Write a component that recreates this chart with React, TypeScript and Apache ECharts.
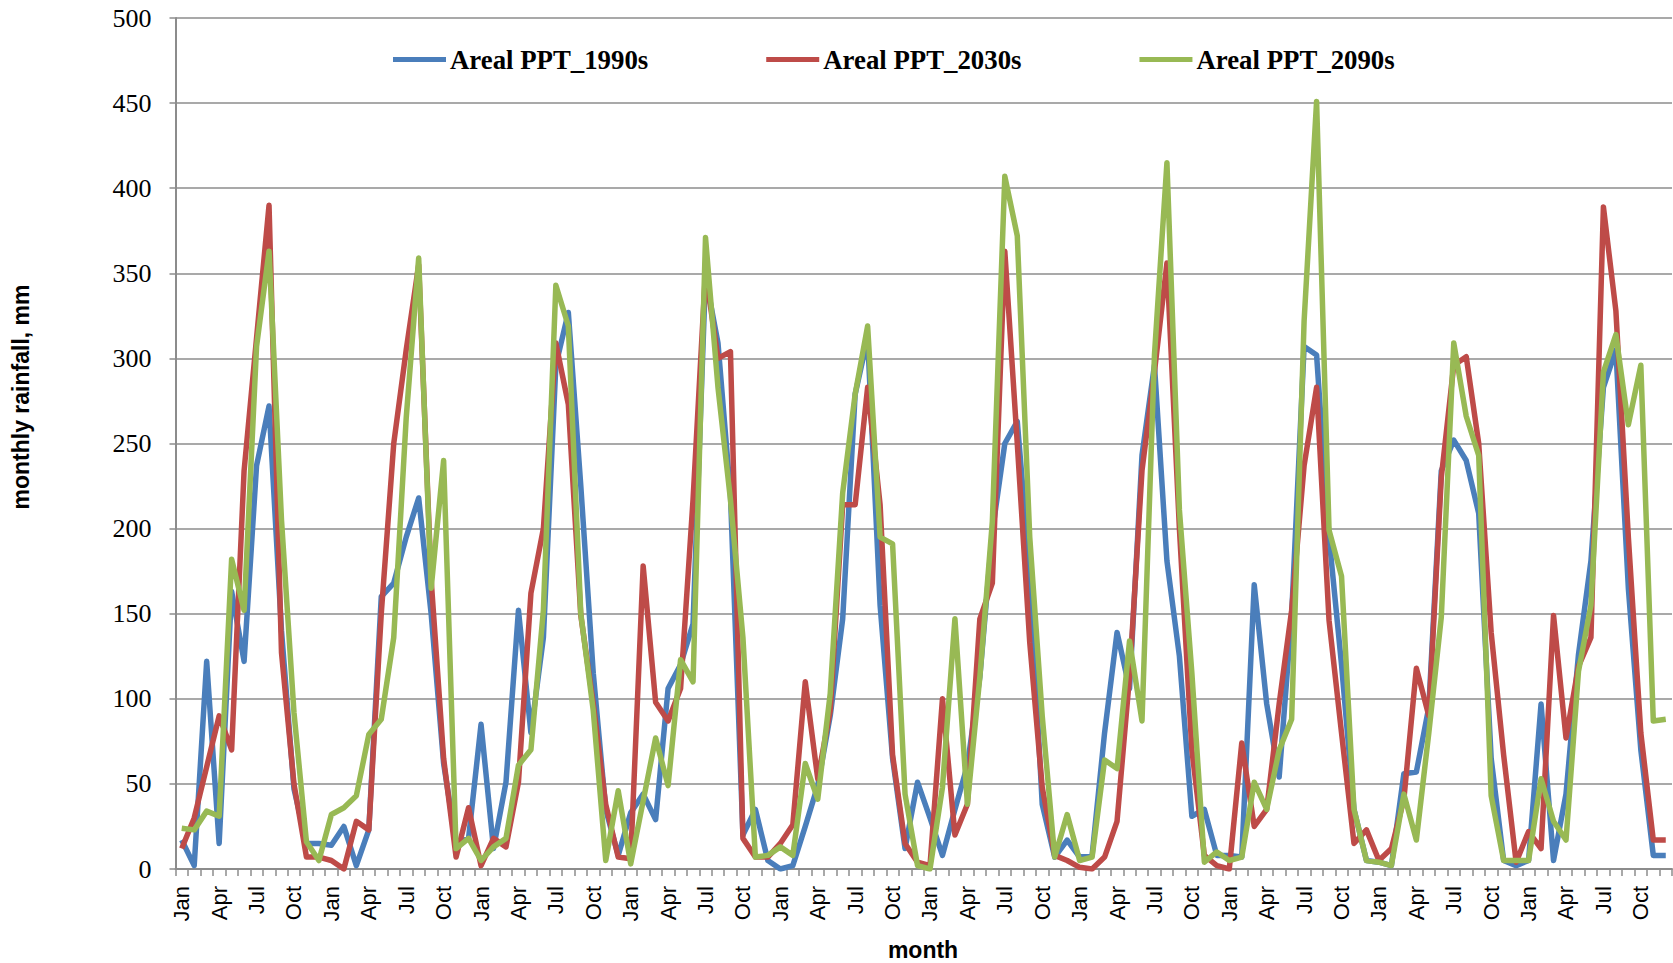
import React, { useEffect, useRef } from "react";
import * as echarts from "echarts";

const monthNames = ["Jan", "Feb", "Mar", "Apr", "May", "Jun", "Jul", "Aug", "Sep", "Oct", "Nov", "Dec"];
const yearsCount = 10;
const categories: string[] = [];
for (let y = 0; y < yearsCount; y++) for (const m of monthNames) categories.push(m);

const yTicks = { min: 0, max: 500, interval: 50 };

const ppt1990s = [
  17, 2, 122, 15, 163, 122, 237, 272, 140, 47, 15, 15,
  14, 25, 2, 23, 160, 168, 195, 218, 150, 62, 15, 18,
  85, 12, 51, 152, 80, 136, 296, 327, 225, 115, 35, 8,
  33, 44, 29, 106, 120, 144, 348, 309, 220, 20, 35, 5,
  0, 2, 25, 49, 90, 147, 279, 312, 155, 65, 12, 51,
  30, 8, 35, 61, 113, 198, 250, 263, 175, 38, 7, 17,
  7, 8, 80, 139, 106, 243, 296, 181, 125, 31, 35, 8,
  8, 7, 167, 97, 54, 149, 307, 302, 195, 120, 35, 5,
  4, 2, 56, 57, 95, 234, 252, 240, 209, 65, 5, 2,
  5, 97, 5, 44, 126, 181, 283, 305, 165, 70, 8, 8,
];

const ppt2030s = [
  12, 30, 60, 90, 70, 234, 312, 390, 127, 50, 7, 7,
  5, 0, 28, 23, 150, 250, 305, 355, 170, 65, 7, 36,
  2, 18, 13, 51, 162, 200, 309, 273, 149, 97, 38, 7,
  6, 178, 98, 87, 106, 217, 351, 300, 304, 18, 7, 7,
  15, 26, 110, 53, 93, 214, 214, 283, 214, 67, 15, 4,
  2, 100, 20, 38, 147, 168, 363, 250, 133, 48, 8, 5,
  1, 0, 7, 28, 113, 234, 292, 356, 200, 70, 8, 2,
  0, 74, 25, 35, 97, 152, 237, 283, 146, 80, 15, 23,
  5, 12, 41, 118, 90, 230, 296, 301, 250, 139, 67, 4,
  22, 12, 149, 77, 119, 136, 389, 328, 195, 80, 17, 17,
];

const ppt2090s = [
  24, 23, 34, 31, 182, 152, 307, 363, 205, 92, 16, 5,
  32, 36, 43, 79, 88, 136, 265, 359, 165, 240, 12, 18,
  5, 13, 18, 61, 70, 152, 343, 319, 150, 93, 5, 46,
  3, 40, 77, 49, 123, 110, 371, 283, 217, 136, 7, 8,
  13, 8, 62, 41, 103, 221, 279, 319, 195, 191, 44, 2,
  0, 48, 147, 38, 113, 204, 407, 372, 195, 90, 7, 32,
  5, 7, 64, 59, 134, 87, 302, 415, 211, 115, 4, 10,
  5, 7, 51, 35, 70, 88, 322, 451, 199, 172, 35, 5,
  4, 2, 44, 17, 80, 148, 309, 266, 243, 43, 5, 5,
  5, 53, 28, 17, 116, 155, 292, 314, 261, 296, 87, 88,
];

const seriesNames = ["Areal PPT_1990s", "Areal PPT_2030s", "Areal PPT_2090s"];
const seriesColors = ["#4A7EBB", "#BE4B48", "#98B954"];
const seriesData = [ppt1990s, ppt2030s, ppt2090s];

export default function App() {
  const ref = useRef<HTMLDivElement>(null);
  useEffect(() => {
    if (!ref.current) return;
    const chart = echarts.init(ref.current, undefined, { renderer: "svg" });
    const gray = "#8C8C8C";
    chart.setOption({
      animation: false,
      backgroundColor: "#ffffff",
      grid: { left: 175.5, top: 18, right: 1, bottom: 94, containLabel: false },
      legend: {
        left: 388,
        top: 41,
        itemWidth: 53,
        itemHeight: 30,
        itemGap: 118,
        icon: "path://M0,12.5 L53,12.5 L53,17.5 L0,17.5 Z",
        textStyle: {
          fontFamily: "'Liberation Serif', 'Times New Roman', serif",
          fontWeight: "bold",
          fontSize: 26.8,
          color: "#000",
          padding: [0, 0, 0, -1],
        },
        data: seriesNames,
      },
      xAxis: {
        type: "category",
        data: categories,
        boundaryGap: true,
        axisLine: { show: true, lineStyle: { color: gray, width: 2 } },
        axisTick: { show: true, interval: 0, length: 7, lineStyle: { color: gray, width: 1.5 } },
        axisLabel: {
          interval: 2,
          rotate: 90,
          margin: 17,
          fontFamily: "'Liberation Sans', Arial, sans-serif",
          fontSize: 22,
          color: "#000",
        },
        splitLine: { show: false },
      },
      yAxis: {
        type: "value",
        min: yTicks.min,
        max: yTicks.max,
        interval: yTicks.interval,
        axisLine: { show: true, lineStyle: { color: gray, width: 2 } },
        axisTick: { show: true, length: 6, lineStyle: { color: gray, width: 1.5 } },
        axisLabel: {
          margin: 24,
          fontFamily: "'Liberation Serif', 'Times New Roman', serif",
          fontSize: 26,
          color: "#000",
        },
        splitLine: { show: true, lineStyle: { color: gray, width: 1.5 } },
      },
      graphic: [
        {
          type: "text",
          x: 21,
          y: 397,
          rotation: Math.PI / 2,
          style: {
            text: "monthly rainfall, mm",
            font: "bold 23px 'Liberation Sans', Arial, sans-serif",
            fill: "#000",
            textAlign: "center",
            textVerticalAlign: "middle",
          },
        },
        {
          type: "text",
          x: 923,
          y: 950,
          style: {
            text: "month",
            font: "bold 23px 'Liberation Sans', Arial, sans-serif",
            fill: "#000",
            textAlign: "center",
            textVerticalAlign: "middle",
          },
        },
      ],
      series: seriesData.map((d, i) => ({
        name: seriesNames[i],
        type: "line",
        data: d,
        showSymbol: false,
        symbol: "none",
        smooth: false,
        color: seriesColors[i],
        lineStyle: { color: seriesColors[i], width: 5.5, join: "round" },
        itemStyle: { color: seriesColors[i] },
        z: 2 + i,
      })),
    });
    return () => chart.dispose();
  }, []);
  return (
    <div
      ref={ref}
      style={{ position: "fixed", left: 0, top: 0, width: 1673, height: 963, background: "#fff" }}
    />
  );
}
